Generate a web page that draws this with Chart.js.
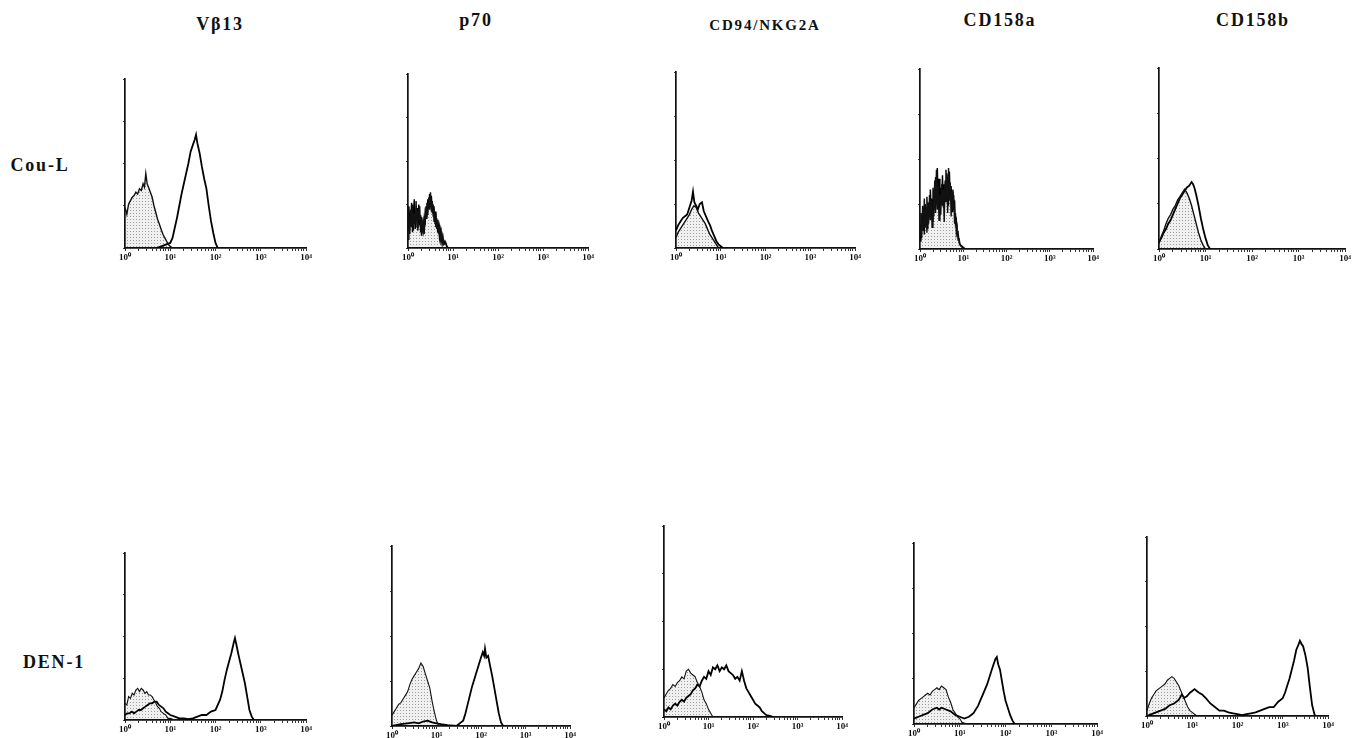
<!DOCTYPE html>
<html><head><meta charset="utf-8">
<script src="https://cdn.jsdelivr.net/npm/chart.js@4.4.0/dist/chart.umd.min.js"></script>
<style>
body{margin:0;background:#fff;width:1361px;height:738px;position:relative;overflow:hidden;font-family:'Liberation Serif','DejaVu Serif',serif;}
.t{position:absolute;font-weight:bold;color:#111;white-space:nowrap;transform:translate(-50%,-50%);line-height:1;}
canvas{position:absolute;}
</style></head><body>
<script>
// ---- text ----
const markers = ['Vβ13', 'p70', 'CD94/NKG2A', 'CD158a', 'CD158b'];
const cellLines = ['Cou-L', 'DEN-1'];
const tickLabels = ['10⁰', '10¹', '10²', '10³', '10⁴'];

// ---- data: [log10 fluorescence (decade), % of axis height] ----
// Cou-L row
const vb13CouCtrl = [[0,24],[0.04,20],[0.08,26],[0.12,28],[0.16,30],[0.2,31],[0.24,33],[0.28,32],[0.32,35],[0.36,34],[0.4,38],[0.43,36],[0.46,44],[0.49,38],[0.52,36],[0.56,33],[0.6,30],[0.64,25],[0.68,21],[0.72,17],[0.76,14],[0.8,11],[0.84,8],[0.88,6],[0.92,4],[0.96,2],[1.0,1],[1.05,0]];
const vb13CouStain = [[0.7,0],[0.8,1],[0.9,2],[1.0,3],[1.05,6],[1.1,12],[1.15,18],[1.2,25],[1.25,32],[1.3,38],[1.35,44],[1.4,50],[1.45,57],[1.5,61],[1.54,64],[1.57,67],[1.6,62],[1.65,56],[1.7,48],[1.75,41],[1.8,35],[1.85,25],[1.9,16],[1.95,9],[2.0,3],[2.05,0]];
const p70CouCtrl = [[0,5],[0.02,18],[0.04,8],[0.06,22],[0.08,12],[0.1,25],[0.12,10],[0.14,20],[0.16,14],[0.18,27],[0.2,12],[0.22,22],[0.24,16],[0.26,24],[0.28,9],[0.3,18],[0.32,11],[0.34,15],[0.36,8],[0.38,20],[0.4,17],[0.42,26],[0.44,19],[0.46,29],[0.48,22],[0.5,32],[0.52,21],[0.54,27],[0.56,18],[0.58,24],[0.6,14],[0.62,20],[0.64,11],[0.66,16],[0.68,8],[0.7,12],[0.72,5],[0.74,9],[0.76,3],[0.78,6],[0.8,2],[0.84,3],[0.88,0]];
const p70CouStain = [[0,10],[0.02,24],[0.04,14],[0.06,16],[0.08,26],[0.1,9],[0.12,21],[0.14,28],[0.16,11],[0.18,19],[0.2,23],[0.22,10],[0.24,25],[0.26,13],[0.28,19],[0.3,7],[0.32,14],[0.34,10],[0.36,17],[0.38,13],[0.4,24],[0.42,18],[0.44,28],[0.46,23],[0.48,31],[0.5,25],[0.52,30],[0.54,20],[0.56,25],[0.58,15],[0.6,21],[0.62,12],[0.64,17],[0.66,9],[0.68,13],[0.7,6],[0.72,10],[0.74,4],[0.76,7],[0.78,2],[0.82,4],[0.86,1],[0.9,0]];
const cd94CouCtrl = [[0,6],[0.05,9],[0.1,11],[0.15,13],[0.2,15],[0.25,17],[0.3,19],[0.35,22],[0.4,24],[0.45,23],[0.5,20],[0.55,18],[0.6,16],[0.65,14],[0.7,11],[0.75,8],[0.8,6],[0.85,4],[0.9,2],[0.95,0]];
const cd94CouStain = [[0,10],[0.05,13],[0.1,15],[0.15,17],[0.2,18],[0.25,19],[0.3,23],[0.35,27],[0.38,32],[0.41,26],[0.45,24],[0.49,22],[0.53,25],[0.58,26],[0.62,21],[0.67,18],[0.72,15],[0.76,13],[0.8,10],[0.85,7],[0.9,4],[0.95,2],[1.0,1],[1.05,0]];
const cd158aCouCtrl = [[0,8],[0.02,20],[0.04,6],[0.06,24],[0.08,10],[0.1,28],[0.12,12],[0.14,22],[0.16,9],[0.18,26],[0.2,14],[0.22,30],[0.24,16],[0.26,27],[0.28,12],[0.3,34],[0.32,18],[0.34,38],[0.36,20],[0.38,44],[0.4,22],[0.42,35],[0.44,16],[0.46,30],[0.48,19],[0.5,36],[0.52,24],[0.54,33],[0.56,15],[0.58,38],[0.6,26],[0.62,42],[0.64,20],[0.66,45],[0.68,28],[0.7,37],[0.72,18],[0.74,32],[0.76,22],[0.78,30],[0.8,14],[0.82,20],[0.84,9],[0.86,12],[0.88,5],[0.9,6],[0.93,2],[0.97,1],[1.02,0]];
const cd158aCouStain = [[0,14],[0.02,4],[0.04,18],[0.06,12],[0.08,20],[0.1,8],[0.12,25],[0.14,17],[0.16,29],[0.18,11],[0.2,24],[0.22,18],[0.24,33],[0.26,20],[0.28,28],[0.3,15],[0.32,31],[0.34,24],[0.36,40],[0.38,26],[0.4,45],[0.42,28],[0.44,39],[0.46,22],[0.48,34],[0.5,27],[0.52,41],[0.54,23],[0.56,36],[0.58,29],[0.6,44],[0.62,31],[0.64,40],[0.66,24],[0.68,43],[0.7,27],[0.72,35],[0.74,21],[0.76,33],[0.78,24],[0.8,27],[0.82,14],[0.84,16],[0.86,8],[0.88,9],[0.91,3],[0.95,2],[1.0,1],[1.05,0]];
const cd158bCouCtrl = [[0,3],[0.05,7],[0.1,10],[0.15,14],[0.2,17],[0.25,19],[0.3,22],[0.35,24],[0.4,27],[0.45,29],[0.5,31],[0.55,33],[0.6,31],[0.65,28],[0.7,24],[0.75,19],[0.8,14],[0.85,9],[0.9,5],[0.95,2],[1.0,0]];
const cd158bCouStain = [[0,4],[0.05,6],[0.1,9],[0.15,11],[0.2,14],[0.25,16],[0.3,19],[0.35,22],[0.4,25],[0.45,28],[0.5,30],[0.55,32],[0.6,34],[0.65,35],[0.7,37],[0.73,36],[0.76,34],[0.8,30],[0.85,24],[0.9,17],[0.95,11],[1.0,6],[1.05,2],[1.1,0]];
// DEN-1 row
const vb13DenCtrl = [[0,10],[0.04,9],[0.08,14],[0.12,13],[0.16,16],[0.2,15],[0.24,18],[0.28,19],[0.32,17],[0.36,19],[0.4,18],[0.44,16],[0.48,17],[0.52,15],[0.56,15],[0.6,14],[0.64,12],[0.68,10],[0.72,8],[0.76,7],[0.8,5],[0.85,4],[0.9,3],[0.95,1],[1.0,1],[1.1,0]];
const vb13DenStain = [[0,3],[0.05,4],[0.1,4],[0.15,5],[0.2,4],[0.25,5],[0.3,6],[0.35,6],[0.4,7],[0.45,8],[0.5,9],[0.55,10],[0.6,10],[0.65,11],[0.7,11],[0.75,9],[0.8,8],[0.85,7],[0.9,5],[0.95,4],[1.0,3],[1.1,2],[1.2,1],[1.3,1],[1.4,0.5],[1.5,1],[1.6,2],[1.7,3],[1.8,3],[1.9,5],[2.0,6],[2.05,9],[2.1,12],[2.15,17],[2.2,24],[2.25,30],[2.3,35],[2.35,40],[2.4,46],[2.43,49],[2.47,44],[2.5,40],[2.55,34],[2.6,28],[2.65,22],[2.7,14],[2.75,6],[2.8,2],[2.85,0]];
const p70DenCtrl = [[0,6],[0.05,8],[0.1,10],[0.15,12],[0.2,13],[0.25,15],[0.3,17],[0.35,19],[0.4,23],[0.45,26],[0.5,28],[0.55,30],[0.6,32],[0.65,35],[0.7,33],[0.75,29],[0.8,25],[0.85,21],[0.9,14],[0.95,8],[1.0,3],[1.05,0]];
const p70DenStain = [[0,0],[0.2,1],[0.35,1.5],[0.5,2],[0.6,1.5],[0.7,2.5],[0.8,3],[0.9,2],[1.0,1.5],[1.1,1],[1.25,0.5],[1.45,0],[1.55,2],[1.6,3],[1.65,7],[1.7,12],[1.75,17],[1.8,22],[1.85,26],[1.9,30],[1.95,34],[2.0,38],[2.04,41],[2.07,39],[2.09,43],[2.12,38],[2.16,39],[2.2,34],[2.25,28],[2.3,21],[2.35,14],[2.4,7],[2.45,2],[2.5,0]];
const cd94DenCtrl = [[0,10],[0.05,12],[0.1,14],[0.15,15],[0.2,17],[0.25,16],[0.3,18],[0.35,19],[0.4,21],[0.45,20],[0.5,24],[0.55,25],[0.6,23],[0.65,22],[0.7,21],[0.75,18],[0.8,16],[0.85,13],[0.9,9],[0.95,7],[1.0,4],[1.05,2],[1.1,0]];
const cd94DenStain = [[0,4],[0.05,3],[0.1,5],[0.15,4],[0.2,6],[0.25,7],[0.3,6],[0.35,8],[0.4,9],[0.45,8],[0.5,10],[0.55,11],[0.6,12],[0.65,14],[0.7,15],[0.75,17],[0.8,16],[0.85,19],[0.9,21],[0.95,20],[1.0,24],[1.05,22],[1.1,26],[1.15,25],[1.2,27],[1.25,24],[1.3,26],[1.35,25],[1.4,27],[1.45,24],[1.5,23],[1.55,22],[1.6,20],[1.65,21],[1.7,19],[1.75,24],[1.8,19],[1.85,15],[1.9,13],[1.95,11],[2.0,9],[2.05,7],[2.1,6],[2.15,5],[2.2,3],[2.25,2],[2.3,1],[2.4,0.5],[2.45,0]];
const cd158aDenCtrl = [[0,9],[0.05,11],[0.1,13],[0.15,14],[0.2,15],[0.25,16],[0.3,17],[0.35,16],[0.4,18],[0.45,19],[0.5,20],[0.55,19],[0.6,21],[0.65,20],[0.7,19],[0.75,15],[0.8,12],[0.85,8],[0.9,6],[0.95,4],[1.0,3],[1.05,1],[1.15,0]];
const cd158aDenStain = [[0,3],[0.1,4],[0.2,5],[0.3,6],[0.4,8],[0.5,9],[0.55,8],[0.6,9],[0.7,8],[0.8,7],[0.9,5],[1.0,4],[1.1,3],[1.2,4],[1.25,5],[1.3,6],[1.35,8],[1.4,10],[1.45,13],[1.5,16],[1.55,19],[1.6,22],[1.65,26],[1.7,30],[1.74,33],[1.78,36],[1.81,37],[1.84,33],[1.88,30],[1.92,24],[1.96,18],[2.0,13],[2.05,9],[2.1,5],[2.15,2],[2.2,0]];
const cd158bDenCtrl = [[0,3],[0.05,7],[0.1,10],[0.15,12],[0.2,14],[0.25,15],[0.3,16],[0.35,17],[0.4,18],[0.45,20],[0.5,21],[0.55,22],[0.6,21],[0.65,19],[0.7,17],[0.75,14],[0.8,11],[0.85,8],[0.9,5],[0.95,3],[1.0,2],[1.1,0]];
const cd158bDenStain = [[0,0],[0.1,1],[0.2,2],[0.3,3],[0.4,4],[0.5,6],[0.6,7],[0.7,9],[0.77,12],[0.82,10],[0.88,11],[0.95,13],[1.0,14],[1.05,15],[1.1,14],[1.15,13],[1.22,12],[1.3,10],[1.4,7],[1.5,5],[1.6,3],[1.7,3],[1.8,2],[1.9,1.5],[2.0,1],[2.1,0.5],[2.2,1],[2.3,1.5],[2.4,2],[2.5,3],[2.6,4],[2.7,5],[2.8,5],[2.9,8],[3.0,10],[3.05,13],[3.1,17],[3.15,21],[3.2,26],[3.25,31],[3.3,37],[3.35,40],[3.38,42],[3.42,40],[3.45,39],[3.5,34],[3.55,27],[3.6,16],[3.65,6],[3.7,1],[3.72,0]];

const ctrlSeries = [
  [vb13CouCtrl, p70CouCtrl, cd94CouCtrl, cd158aCouCtrl, cd158bCouCtrl],
  [vb13DenCtrl, p70DenCtrl, cd94DenCtrl, cd158aDenCtrl, cd158bDenCtrl]
];
const stainSeries = [
  [vb13CouStain, p70CouStain, cd94CouStain, cd158aCouStain, cd158bCouStain],
  [vb13DenStain, p70DenStain, cd94DenStain, cd158aDenStain, cd158bDenStain]
];

// ---- layout (plot-area edges in page pixels: left, right, top, bottom) ----
const panelBoxes = [
  [[125,306,79,248],[408,588,74,248],[676,855,72,248],[920,1093,69,249],[1159,1345,68,249]],
  [[125,306,553,720],[392,570,546,726],[664,842,526,717],[914,1097,543,724],[1147,1328,537,716]]
];
const titleBoxes = [[220,24,18],[476,20,18],[765,25,15],[1000,20,18],[1253,20,18]];
const rowBoxes = [[40,165],[54,662]];
const PAD_L = 10, Y_W = 4, PAD_R = 12, PAD_T = 2, X_H = 20;

// ---- text ----
markers.forEach((m, i) => {
  const d = document.createElement('div');
  d.className = 't';
  d.textContent = m;
  d.style.left = titleBoxes[i][0] + 'px';
  d.style.top = titleBoxes[i][1] + 'px';
  d.style.fontSize = titleBoxes[i][2] + 'px';
  d.style.letterSpacing = '1.8px';
  document.body.appendChild(d);
});
cellLines.forEach((c, i) => {
  const d = document.createElement('div');
  d.className = 't';
  d.textContent = c;
  d.style.left = rowBoxes[i][0] + 'px';
  d.style.top = rowBoxes[i][1] + 'px';
  d.style.fontSize = '18px';
  d.style.letterSpacing = '1.8px';
  document.body.appendChild(d);
});

// stipple fill for the control histogram
const pc = document.createElement('canvas');
pc.width = 3; pc.height = 3;
const pg = pc.getContext('2d');
pg.fillStyle = 'rgba(0,0,0,0.06)'; pg.fillRect(0,0,3,3);
pg.fillStyle = 'rgba(0,0,0,0.35)'; pg.fillRect(1,1,1,1);
const stipple = pg.createPattern(pc, 'repeat');

// minor/major tick positions on the decade axis
const tickPositions = [];
for (let k = 0; k <= 4; k++) {
  tickPositions.push(k);
  if (k < 4) for (let m = 2; m <= 9; m++) tickPositions.push(k + Math.log10(m));
}

const toXY = arr => arr.map(p => ({x: p[0], y: p[1]}));

for (let r = 0; r < 2; r++) {
  for (let c = 0; c < 5; c++) {
    const [L, R, T, B] = panelBoxes[r][c];
    const cv = document.createElement('canvas');
    const w = (R - L) + PAD_L + Y_W + PAD_R;
    const h = (B - T) + PAD_T + X_H;
    cv.width = w; cv.height = h;
    cv.style.left = (L - PAD_L - Y_W) + 'px';
    cv.style.top = (T - PAD_T) + 'px';
    document.body.appendChild(cv);
    const jagged = (r === 0 && (c === 1 || c === 3));
    new Chart(cv, {
      type: 'line',
      data: {datasets: [
        {data: toXY(ctrlSeries[r][c]), borderColor: '#111', borderWidth: jagged ? 1.4 : (r === 0 ? 1.4 : 1.1),
         backgroundColor: stipple, fill: 'origin', pointRadius: 0, tension: 0},
        {data: toXY(stainSeries[r][c]), borderColor: '#000', borderWidth: jagged ? 1.4 : 1.8,
         fill: false, pointRadius: 0, tension: 0}
      ]},
      options: {
        responsive: false, animation: false, devicePixelRatio: 1,
        layout: {padding: {left: PAD_L, right: PAD_R, top: PAD_T, bottom: 0}},
        plugins: {legend: {display: false}, tooltip: {enabled: false}},
        scales: {
          x: {
            type: 'linear', min: 0, max: 4,
            afterFit: s => { s.height = X_H; },
            afterBuildTicks: s => { s.ticks = tickPositions.map(v => ({value: v})); },
            ticks: {autoSkip: false, maxRotation: 0, padding: 1, color: '#111',
              font: {family: 'Liberation Serif', size: 9, weight: 'bold'},
              callback: v => (Math.abs(v - Math.round(v)) < 1e-9 ? tickLabels[Math.round(v)] : '')},
            grid: {display: true, drawOnChartArea: false, drawTicks: true, tickLength: 3, color: '#333'},
            border: {display: true, color: '#111', width: 1.7}
          },
          y: {
            min: 0, max: 100,
            afterFit: s => { s.width = Y_W; },
            ticks: {display: false, stepSize: 25},
            grid: {display: true, drawOnChartArea: false, drawTicks: true, tickLength: 2, color: '#444'},
            border: {display: true, color: '#111', width: 1.7}
          }
        }
      }
    });
  }
}
</script>
</body></html>
